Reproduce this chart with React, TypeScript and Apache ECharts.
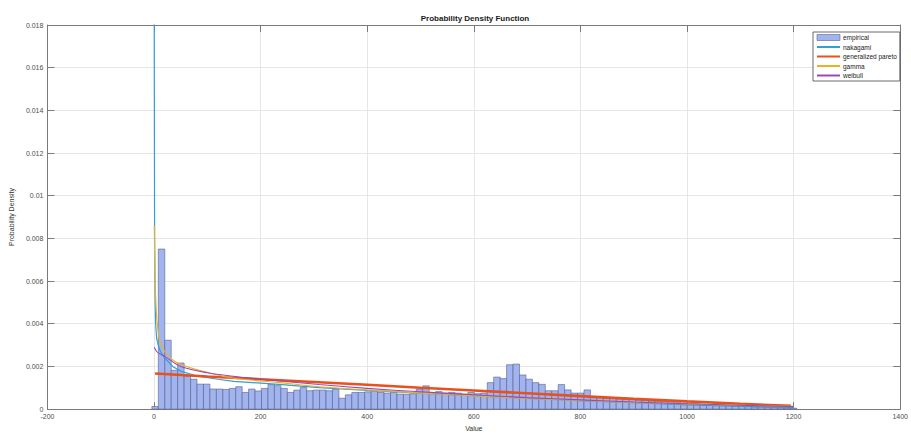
import React, { useEffect, useRef } from "react";
import * as echarts from "echarts";

// Histogram (empirical pdf): bins start at histMin, width binWidth
const histMin = -4;
const binWidth = 12.1;
const histDensity = [
  0.00012, 0.0075, 0.00323, 0.00182, 0.00216, 0.00155, 0.0014, 0.00117, 0.00117, 0.00094,
  0.00094, 0.00092, 0.00097, 0.00105, 0.00078, 0.00094, 0.00085, 0.00097, 0.00115, 0.0011,
  0.00097, 0.00078, 0.00089, 0.00101, 0.00086, 0.00089, 0.00089, 0.00086, 0.00093, 0.00051,
  0.00067, 0.00078, 0.00078, 0.00081, 0.00086, 0.00078, 0.00075, 0.00078, 0.0007, 0.0007,
  0.00072, 0.00094, 0.00109, 0.00078, 0.00082, 0.00075, 0.00078, 0.00075, 0.0007, 0.00078,
  0.00072, 0.00075, 0.00124, 0.0015, 0.00143, 0.00208, 0.00211, 0.0016, 0.0014, 0.00124,
  0.00116, 0.00086, 0.00086, 0.00115, 0.0009, 0.00075, 0.00075, 0.0009, 0.00058, 0.00055,
  0.0005, 0.00052, 0.00048, 0.00045, 0.00047, 0.00042, 0.0004, 0.00038, 0.00036, 0.00035,
  0.0003, 0.0003, 0.00028, 0.00026, 0.00025, 0.00022, 0.0002, 0.0002, 0.00018, 0.00016,
  0.00015, 0.00013, 0.00012, 0.0001, 0.0001, 0.00008, 0.00007, 0.00006, 0.00005, 0.00004,
];

const nakagamiX = [0.2, 0.5, 1, 2, 3, 5, 8, 12, 20, 35, 50, 80, 120, 150, 240, 310, 400, 500, 600, 700, 800, 900, 1000, 1100, 1200];
const nakagamiY = [0.03, 0.016, 0.009, 0.0052, 0.004, 0.0033, 0.003, 0.0027, 0.0024, 0.002, 0.00178, 0.00155, 0.0014, 0.0013, 0.00115, 0.00101, 0.00088, 0.00075, 0.00062, 0.0005, 0.0004, 0.0003, 0.0002, 0.00013, 0.00007];

const paretoX = [2, 100, 200, 300, 400, 500, 600, 700, 800, 900, 1000, 1100, 1195];
const paretoY = [0.00167, 0.00153, 0.0014, 0.00127, 0.00114, 0.001, 0.00087, 0.00074, 0.00061, 0.00048, 0.00036, 0.00025, 0.00015];

const gammaX = [0.5, 1, 2, 3, 5, 8, 12, 20, 35, 50, 80, 144, 236, 310, 400, 500, 600, 700, 800, 900, 1000, 1100, 1200];
const gammaY = [0.0086, 0.0075, 0.0062, 0.0053, 0.0043, 0.0036, 0.0031, 0.0027, 0.0023, 0.0021, 0.00185, 0.00147, 0.00124, 0.00105, 0.0009, 0.00075, 0.00062, 0.0005, 0.0004, 0.00031, 0.00024, 0.00018, 0.00013];

const weibullX = [0.5, 5, 10, 20, 50, 100, 144, 236, 310, 400, 500, 600, 700, 800, 900, 1000, 1100, 1200];
const weibullY = [0.0029, 0.0027, 0.0026, 0.00247, 0.002, 0.0017, 0.00155, 0.00132, 0.00115, 0.00097, 0.00081, 0.00067, 0.00054, 0.00043, 0.00033, 0.00025, 0.00018, 0.00012];

const seriesNames = ["empirical", "nakagami", "generalized pareto", "gamma", "weibull"];
const xTicks = { min: -200, max: 1400, interval: 200 };
const yTicks = { min: 0, max: 0.018, interval: 0.002 };

const FONT = "'Liberation Sans', Arial, Helvetica, sans-serif";
const AX = "#7a7a7a";

const zip = (xs: number[], ys: number[]) => xs.map((x, i) => [x, ys[i]]);

export default function App() {
  const ref = useRef<HTMLDivElement>(null);
  useEffect(() => {
    if (!ref.current) return;
    const chart = echarts.init(ref.current, undefined, { renderer: "svg" });
    const histData = histDensity.map((d, i) => [histMin + i * binWidth, histMin + (i + 1) * binWidth, d]);
    const axisCommon = {
      type: "value" as const,
      axisLine: { show: true, onZero: false, lineStyle: { color: AX, width: 1 } },
      axisTick: { show: true, inside: true, length: 7, lineStyle: { color: AX } },
    };
    const hiddenSymbol = { opacity: 0 };
    const option: any = {
      animation: false,
      backgroundColor: "#ffffff",
      textStyle: { fontFamily: FONT },
      grid: { left: 43, right: 6, top: 25, bottom: 20, containLabel: false },
      graphic: [
        {
          type: "text",
          x: 475,
          y: 18,
          style: {
            text: "Probability Density Function",
            font: `bold 8px ${FONT}`,
            fill: "#1a1a1a",
            textAlign: "center",
            textVerticalAlign: "middle",
          },
        },
      ],
      xAxis: [
        {
          ...axisCommon,
          position: "bottom",
          min: xTicks.min,
          max: xTicks.max,
          interval: xTicks.interval,
          name: "Value",
          nameLocation: "middle",
          nameGap: 15,
          nameTextStyle: { fontSize: 7, color: "#333", fontFamily: FONT },
          axisLabel: { fontSize: 7, color: "#4d4d4d", margin: 4, fontFamily: FONT, formatter: (v: number) => String(v) },
          splitLine: { show: true, lineStyle: { color: "#e6e6e6", width: 1 } },
        },
        {
          ...axisCommon,
          position: "top",
          min: xTicks.min,
          max: xTicks.max,
          interval: xTicks.interval,
          axisLabel: { show: false },
          splitLine: { show: false },
        },
      ],
      yAxis: [
        {
          ...axisCommon,
          position: "left",
          min: yTicks.min,
          max: yTicks.max,
          interval: yTicks.interval,
          name: "Probability Density",
          nameLocation: "middle",
          nameGap: 26,
          nameTextStyle: { fontSize: 7, color: "#333", fontFamily: FONT },
          axisLabel: { fontSize: 7, color: "#4d4d4d", margin: 4, fontFamily: FONT },
          splitLine: { show: true, lineStyle: { color: "#e6e6e6", width: 1 } },
        },
        {
          ...axisCommon,
          position: "right",
          min: yTicks.min,
          max: yTicks.max,
          interval: yTicks.interval,
          axisLabel: { show: false },
          splitLine: { show: false },
        },
      ],
      legend: {
        orient: "vertical",
        left: 813,
        top: 32,
        padding: [2, 3, 2, 3],
        itemWidth: 23,
        itemHeight: 6,
        itemGap: 2.5,
        borderColor: "#444",
        borderWidth: 0.8,
        backgroundColor: "#fff",
        textStyle: { fontSize: 6.5, color: "#222", fontFamily: FONT, padding: [0, 0, 0, -2] },
        data: [
          { name: seriesNames[0], icon: "rect", itemStyle: { borderColor: "#5a6480", borderWidth: 0.6 } },
          { name: seriesNames[1], itemStyle: hiddenSymbol },
          { name: seriesNames[2], itemStyle: hiddenSymbol },
          { name: seriesNames[3], itemStyle: hiddenSymbol },
          { name: seriesNames[4], itemStyle: hiddenSymbol },
        ],
      },
      series: [
        {
          name: seriesNames[0],
          type: "custom",
          xAxisIndex: 0,
          yAxisIndex: 0,
          encode: { x: [0, 1], y: 2 },
          itemStyle: { color: "#a2b4f0", borderColor: "#5a6480", borderWidth: 0.6 },
          renderItem: (params: any, api: any) => {
            const p0 = api.coord([api.value(0), api.value(2)]);
            const p1 = api.coord([api.value(1), 0]);
            return {
              type: "rect",
              shape: { x: p0[0], y: p0[1], width: p1[0] - p0[0], height: p1[1] - p0[1] },
              style: { fill: "#a2b4f0", stroke: "#56608a", lineWidth: 0.6 },
            };
          },
          data: histData,
        },
        {
          name: seriesNames[1],
          type: "line",
          symbol: "none",
          lineStyle: { color: "#2f9fd6", width: 1.2 },
          itemStyle: { color: "#2f9fd6" },
          data: zip(nakagamiX, nakagamiY),
        },
        {
          name: seriesNames[2],
          type: "line",
          symbol: "none",
          lineStyle: { color: "#e8501c", width: 2.6 },
          itemStyle: { color: "#e8501c" },
          data: zip(paretoX, paretoY),
        },
        {
          name: seriesNames[3],
          type: "line",
          symbol: "none",
          smooth: 0.3,
          lineStyle: { color: "#edb120", width: 1.1 },
          itemStyle: { color: "#edb120" },
          data: zip(gammaX, gammaY),
        },
        {
          name: seriesNames[4],
          type: "line",
          symbol: "none",
          smooth: 0.3,
          lineStyle: { color: "#9a48b8", width: 1.1 },
          itemStyle: { color: "#9a48b8" },
          data: zip(weibullX, weibullY),
        },
      ],
    };
    chart.setOption(option);
    return () => chart.dispose();
  }, []);
  return (
    <div
      ref={ref}
      style={{ position: "fixed", left: 0, top: 0, width: 911, height: 437, background: "#fff" }}
    />
  );
}
